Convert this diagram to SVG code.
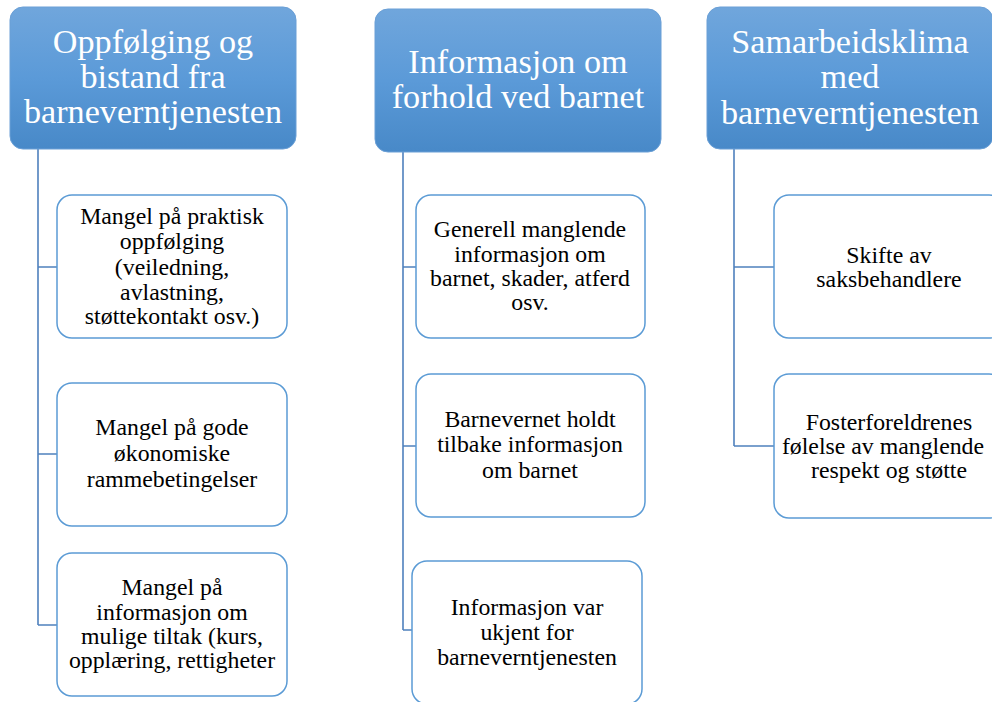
<svg xmlns="http://www.w3.org/2000/svg" width="992" height="702" viewBox="0 0 992 702">
<defs>
<linearGradient id="hg" x1="0" y1="0" x2="0" y2="1">
<stop offset="0" stop-color="#70a6dc"/>
<stop offset="0.5" stop-color="#5b9ad8"/>
<stop offset="1" stop-color="#4889c8"/>
</linearGradient>
<style>
.hdr{fill:url(#hg);stroke:#6a9fd6;stroke-width:1}
.ht{font-family:'Liberation Serif','Times New Roman',Times,'DejaVu Serif',serif;font-size:34.2px;fill:#ffffff;text-anchor:middle}
.box{fill:#ffffff;stroke:#5b9bd5;stroke-width:1.5}
.bt{font-family:'Liberation Serif','Times New Roman',Times,'DejaVu Serif',serif;font-size:23.8px;fill:#000000;text-anchor:middle}
.con{fill:none;stroke:#4f81bd;stroke-width:1.6}
</style>
</defs>
<rect width="992" height="702" fill="#ffffff"/>
<g id="connectors">
<path class="con" d="M38,149 V625 M38,267 H57 M38,454 H57 M38,625 H57"/>
<path class="con" d="M403,152 V630 M403,267 H416 M403,446 H416 M403,630 H412"/>
<path class="con" d="M734,149 V446 M734,267 H774 M734,446 H774"/>
</g>
<g id="h1">
<rect class="hdr" x="10" y="7" width="286" height="142" rx="13"/>
<text class="ht" x="153" y="53">Oppfølging og</text>
<text class="ht" x="153" y="88">bistand fra</text>
<text class="ht" x="153" y="123">barneverntjenesten</text>
</g>
<g id="h2">
<rect class="hdr" x="375" y="9" width="286" height="143" rx="13"/>
<text class="ht" x="518" y="73">Informasjon om</text>
<text class="ht" x="518" y="108">forhold ved barnet</text>
</g>
<g id="h3">
<rect class="hdr" x="707" y="7" width="286" height="142" rx="13"/>
<text class="ht" x="850" y="53">Samarbeidsklima</text>
<text class="ht" x="850" y="88">med</text>
<text class="ht" x="850" y="124">barneverntjenesten</text>
</g>
<g id="c1a">
<rect class="box" x="57" y="195" width="230" height="143" rx="15"/>
<text class="bt" x="172" y="224">Mangel på praktisk</text>
<text class="bt" x="172" y="249">oppfølging</text>
<text class="bt" x="172" y="275">(veiledning,</text>
<text class="bt" x="172" y="300">avlastning,</text>
<text class="bt" x="172" y="324">støttekontakt osv.)</text>
</g>
<g id="c1b">
<rect class="box" x="57" y="383" width="230" height="143" rx="15"/>
<text class="bt" x="172" y="435">Mangel på gode</text>
<text class="bt" x="172" y="461">økonomiske</text>
<text class="bt" x="172" y="487">rammebetingelser</text>
</g>
<g id="c1c">
<rect class="box" x="57" y="553" width="230" height="143" rx="15"/>
<text class="bt" x="172" y="595">Mangel på</text>
<text class="bt" x="172" y="620">informasjon om</text>
<text class="bt" x="172" y="644">mulige tiltak (kurs,</text>
<text class="bt" x="172" y="668">opplæring, rettigheter</text>
</g>
<g id="c2a">
<rect class="box" x="416" y="195" width="229" height="143" rx="15"/>
<text class="bt" x="530" y="237">Generell manglende</text>
<text class="bt" x="530" y="262">informasjon om</text>
<text class="bt" x="530" y="286">barnet, skader, atferd</text>
<text class="bt" x="530" y="310">osv.</text>
</g>
<g id="c2b">
<rect class="box" x="416" y="374" width="229" height="143" rx="15"/>
<text class="bt" x="530" y="427">Barnevernet holdt</text>
<text class="bt" x="530" y="452">tilbake informasjon</text>
<text class="bt" x="530" y="478">om barnet</text>
</g>
<g id="c2c">
<rect class="box" x="412" y="561" width="230" height="143" rx="15"/>
<text class="bt" x="527" y="615">Informasjon var</text>
<text class="bt" x="527" y="640">ukjent for</text>
<text class="bt" x="527" y="665">barneverntjenesten</text>
</g>
<g id="c3a">
<rect class="box" x="774" y="195" width="230" height="143" rx="15"/>
<text class="bt" x="889" y="263">Skifte av</text>
<text class="bt" x="889" y="287">saksbehandlere</text>
</g>
<g id="c3b">
<rect class="box" x="774" y="374" width="230" height="144" rx="15"/>
<text class="bt" x="889" y="430">Fosterforeldrenes</text>
<text class="bt" x="883" y="454">følelse av manglende</text>
<text class="bt" x="889" y="478">respekt og støtte</text>
</g>
</svg>
